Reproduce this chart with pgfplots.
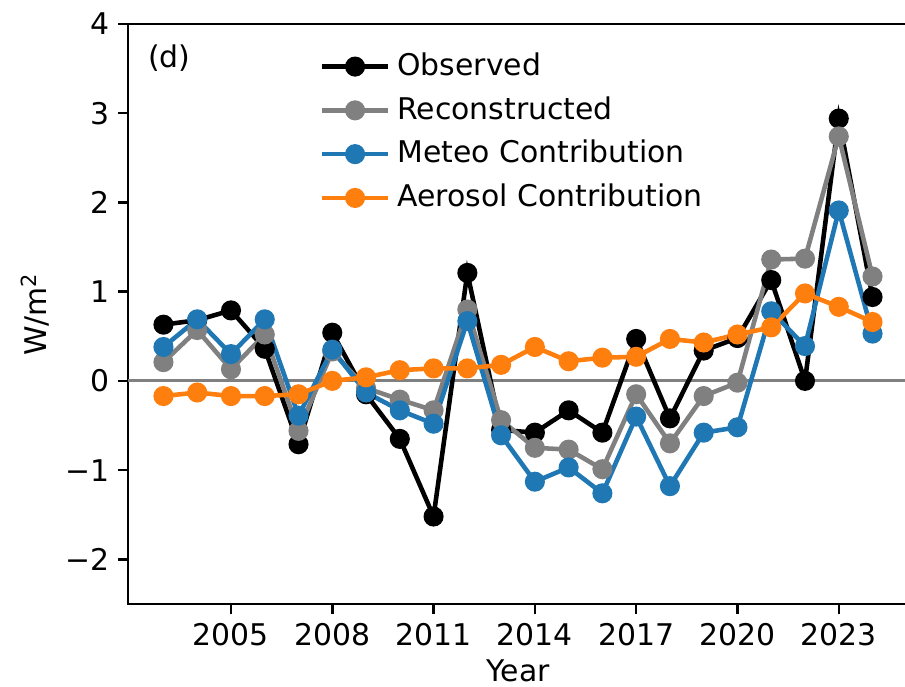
\documentclass[border=0pt]{standalone}
\usepackage{pgfplots}
\pgfplotsset{compat=1.18}
\usepackage{fontspec}
\setmainfont{DejaVu Sans}
\definecolor{tabblue}{HTML}{1F77B4}
\definecolor{taborange}{HTML}{FF7F0E}
\definecolor{mgray}{HTML}{808080}
\begin{document}
\begin{tikzpicture}
\begin{axis}[
  scale only axis,
  width=7.8cm, height=5.8cm,
  xmin=2001.95, xmax=2025.05,
  ymin=-2.5, ymax=4,
  xtick={2005,2008,2011,2014,2017,2020,2023},
  xticklabels={2005,2008,2011,2014,2017,2020,2023},
  ytick={-2,-1,0,1,2,3,4},
  yticklabels={−2,−1,0,1,2,3,4},
  xtick pos=bottom, ytick pos=left,
  tick align=outside,
  major tick length=0.1cm,
  tick style={black, line width=0.7pt},
  axis line style={black, line width=0.7pt},
  font=\fontsize{8.5}{10}\selectfont,
  ticklabel style={font=\fontsize{8.5}{10}\selectfont},
  xticklabel style={anchor=north, inner sep=0pt, yshift=-0.09cm},
  yticklabel style={anchor=east, inner sep=0pt, xshift=-0.08cm},
  xlabel={Year},
  ylabel={W/m\textsuperscript{2}},
  xlabel style={at={(axis description cs:0.5,-0.1345)}, anchor=base, inner sep=0pt},
  ylabel style={at={(axis description cs:-0.104,0.5)}, anchor=base, inner sep=0pt},
  legend style={draw=none, fill=none, at={(rel axis cs:0.245,0.964)}, anchor=north west,
    font=\fontsize{8.5}{10}\selectfont, row sep=0.5pt, inner sep=0pt},
  legend cell align=left,
  legend image code/.code={\draw[mark repeat=2,mark phase=2] plot coordinates {(0cm,0cm) (0.33cm,0cm) (0.66cm,0cm)};},
  every axis plot/.append style={line width=1.3pt, mark=*, mark size=2.2pt},
]
\addplot[mgray, line width=0.8pt, mark=none, forget plot] coordinates {(2001.95,0) (2025.05,0)};
\addplot[black, mark options={fill=black, draw=black}] coordinates {
(2003,0.63) (2004,0.68) (2005,0.79) (2006,0.36) (2007,-0.71) (2008,0.54) (2009,-0.15) (2010,-0.65) (2011,-1.52) (2012,1.21) (2013,-0.55) (2014,-0.58) (2015,-0.33) (2016,-0.58) (2017,0.47) (2018,-0.42) (2019,0.34) (2020,0.48) (2021,1.13) (2022,0.0) (2023,2.94) (2024,0.94)};
\addlegendentry{Observed}
\addplot[mgray, mark options={fill=mgray, draw=mgray}] coordinates {
(2003,0.21) (2004,0.57) (2005,0.13) (2006,0.52) (2007,-0.56) (2008,0.33) (2009,-0.08) (2010,-0.21) (2011,-0.33) (2012,0.80) (2013,-0.44) (2014,-0.75) (2015,-0.77) (2016,-0.99) (2017,-0.15) (2018,-0.70) (2019,-0.17) (2020,-0.02) (2021,1.36) (2022,1.37) (2023,2.74) (2024,1.17)};
\addlegendentry{Reconstructed}
\addplot[tabblue, mark options={fill=tabblue, draw=tabblue}] coordinates {
(2003,0.38) (2004,0.69) (2005,0.30) (2006,0.69) (2007,-0.39) (2008,0.35) (2009,-0.13) (2010,-0.33) (2011,-0.48) (2012,0.67) (2013,-0.61) (2014,-1.13) (2015,-0.97) (2016,-1.26) (2017,-0.40) (2018,-1.18) (2019,-0.58) (2020,-0.52) (2021,0.78) (2022,0.39) (2023,1.91) (2024,0.53)};
\addlegendentry{Meteo Contribution}
\addplot[taborange, mark options={fill=taborange, draw=taborange}] coordinates {
(2003,-0.17) (2004,-0.13) (2005,-0.17) (2006,-0.17) (2007,-0.15) (2008,0.0) (2009,0.04) (2010,0.12) (2011,0.14) (2012,0.14) (2013,0.18) (2014,0.38) (2015,0.22) (2016,0.26) (2017,0.27) (2018,0.47) (2019,0.43) (2020,0.52) (2021,0.60) (2022,0.98) (2023,0.83) (2024,0.66)};
\addlegendentry{Aerosol Contribution}
\node[anchor=north west, inner sep=0pt] at (rel axis cs:0.025,0.9655) {(d)};
\coordinate (ll) at (rel axis cs:0,0);
\coordinate (ur) at (rel axis cs:1,1);
\end{axis}
\pgfresetboundingbox
\path[use as bounding box] ([shift={(-1.28cm,-0.83cm)}]ll) rectangle ([shift={(-0.03cm,0.24cm)}]ur);
\end{tikzpicture}
\end{document}
